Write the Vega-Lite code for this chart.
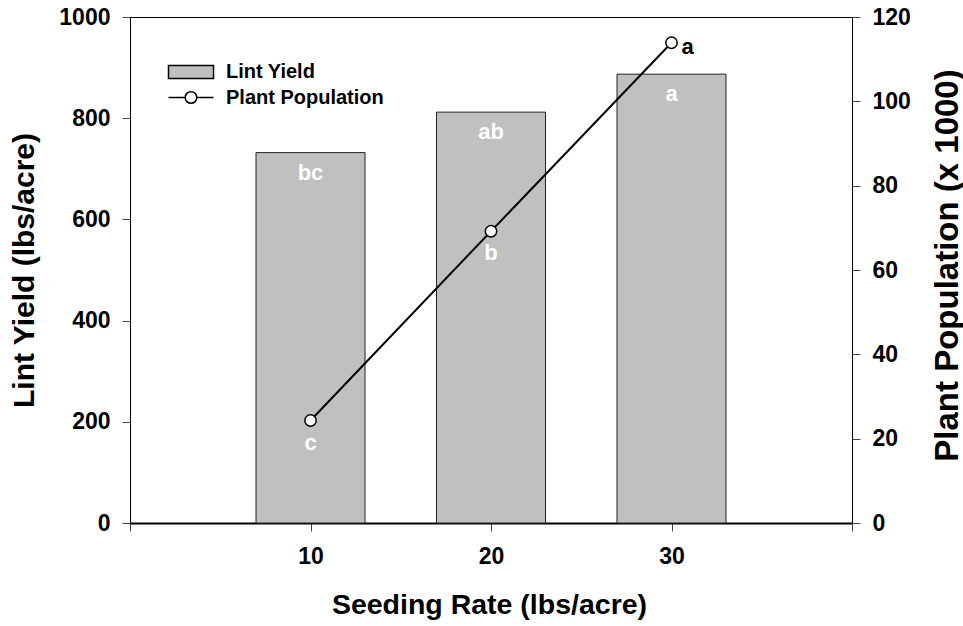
{
  "$schema": "https://vega.github.io/schema/vega-lite/v6.json",
  "width": 722,
  "height": 506,
  "autosize": "none",
  "padding": {"left": 130, "top": 17, "right": 111, "bottom": 103},
  "background": "white",
  "config": {
    "view": {"stroke": "black", "strokeWidth": 1},
    "font": "Liberation Sans",
    "axis": {
      "grid": false,
      "labelFont": "Liberation Sans",
      "labelFontWeight": "bold",
      "labelFontSize": 23,
      "labelColor": "black",
      "titleFont": "Liberation Sans",
      "titleFontWeight": "bold",
      "titleColor": "black",
      "tickColor": "#444",
      "tickSize": 8,
      "domainColor": "black",
      "domainWidth": 1,
      "format": "d"
    }
  },
  "data": {
    "values": [
      {"rate": 10, "yield": 732, "population": 24.3, "yieldLetter": "bc", "popLetter": "c"},
      {"rate": 20, "yield": 812, "population": 69.2, "yieldLetter": "ab", "popLetter": "b"},
      {"rate": 30, "yield": 887, "population": 113.9, "yieldLetter": "a", "popLetter": "a"}
    ]
  },
  "encoding": {
    "x": {
      "field": "rate",
      "type": "quantitative",
      "scale": {"domain": [0, 40], "nice": false, "zero": false, "padding": 0},
      "axis": {
        "values": [0, 10, 20, 30, 40],
        "format": "d",
        "labelExpr": "datum.value == 0 || datum.value == 40 ? '' : datum.label",
        "labelPadding": 14,
        "domainWidth": 1.8,
        "title": "Seeding Rate (lbs/acre)",
        "titleFontSize": 28.5,
        "titleX": 359,
        "titleY": 90,
        "titleBaseline": "alphabetic",
        "titleAlign": "center"
      }
    }
  },
  "layer": [
    {
      "encoding": {
        "y": {
          "field": "yield",
          "type": "quantitative",
          "scale": {"domain": [0, 1000], "nice": false},
          "axis": {
            "orient": "left",
            "values": [0, 200, 400, 600, 800, 1000],
            "format": "d",
            "labelPadding": 12,
            "title": "Lint Yield (lbs/acre)",
            "titleFontSize": 30,
            "titleAngle": 270,
            "titleX": -97,
            "titleY": 253,
            "titleBaseline": "alphabetic",
            "titleAlign": "center"
          }
        }
      },
      "layer": [
        {
          "mark": {"type": "bar", "width": 109, "fill": "#c0c0c0", "stroke": "#222", "strokeWidth": 1}
        },
        {
          "mark": {"type": "text", "baseline": "alphabetic", "align": "center", "dy": 27, "color": "white", "fontSize": 22, "fontWeight": "bold", "font": "Liberation Sans"},
          "encoding": {"text": {"field": "yieldLetter", "type": "nominal"}}
        }
      ]
    },
    {
      "encoding": {
        "y": {
          "field": "population",
          "type": "quantitative",
          "scale": {"domain": [0, 120], "nice": false},
          "axis": {
            "orient": "right",
            "values": [0, 20, 40, 60, 80, 100, 120],
            "format": "d",
            "labelPadding": 12,
            "title": "Plant Population (x 1000)",
            "titleFontSize": 33,
            "titleAngle": 270,
            "titleX": 105,
            "titleY": 248,
            "titleBaseline": "alphabetic",
            "titleAlign": "center"
          }
        }
      },
      "layer": [
        {
          "mark": {"type": "line", "color": "black", "strokeWidth": 2}
        },
        {
          "mark": {"type": "point", "shape": "circle", "filled": true, "fill": "white", "stroke": "black", "strokeWidth": 1.5, "size": 130, "opacity": 1}
        },
        {
          "transform": [{"filter": "datum.rate < 30"}],
          "mark": {"type": "text", "baseline": "alphabetic", "align": "center", "dy": 29, "color": "white", "fontSize": 22, "fontWeight": "bold", "font": "Liberation Sans"},
          "encoding": {"text": {"field": "popLetter", "type": "nominal"}}
        },
        {
          "transform": [{"filter": "datum.rate == 30"}],
          "mark": {"type": "text", "baseline": "alphabetic", "align": "left", "dx": 10, "dy": 11, "color": "black", "fontSize": 22, "fontWeight": "bold", "font": "Liberation Sans"},
          "encoding": {"text": {"field": "popLetter", "type": "nominal"}}
        }
      ]
    },
    {
      "data": {"values": [{"series": "Lint Yield"}, {"series": "Plant Population"}]},
      "transform": [{"filter": "false"}],
      "mark": {"type": "point", "filled": true, "stroke": "black", "strokeWidth": 1.5, "opacity": 1},
      "encoding": {
        "x": {"value": 0},
        "shape": {
          "field": "series",
          "type": "nominal",
          "scale": {
            "domain": ["Lint Yield", "Plant Population"],
            "range": ["M-2.25,-0.65H2.25V0.65H-2.25Z", "M-2.25,0H-0.58M0.58,0H2.25M0.58,0A0.58,0.58,0,1,1,-0.58,0A0.58,0.58,0,1,1,0.58,0Z"]
          },
          "legend": {
            "title": null,
            "orient": "none",
            "legendX": 50,
            "legendY": 44,
            "padding": 0,
            "symbolSize": 400,
            "symbolStrokeColor": "black",
            "symbolStrokeWidth": 1.5,
            "symbolOpacity": 1,
            "labelFont": "Liberation Sans",
            "labelFontSize": 20,
            "labelFontWeight": "bold",
            "labelColor": "black",
            "labelOffset": 24,
            "rowPadding": 4.5,
            "encode": {"symbols": {"update": {"stroke": {"value": "black"}, "strokeWidth": {"value": 1.5}, "opacity": {"value": 1}}}}
          }
        },
        "fill": {
          "field": "series",
          "type": "nominal",
          "scale": {"domain": ["Lint Yield", "Plant Population"], "range": ["#c0c0c0", "#ffffff"]},
          "legend": {
            "title": null,
            "orient": "none",
            "legendX": 50,
            "legendY": 44,
            "padding": 0,
            "symbolSize": 400,
            "symbolStrokeColor": "black",
            "symbolStrokeWidth": 1.5,
            "symbolOpacity": 1,
            "labelFont": "Liberation Sans",
            "labelFontSize": 20,
            "labelFontWeight": "bold",
            "labelColor": "black",
            "labelOffset": 24,
            "rowPadding": 4.5,
            "encode": {"symbols": {"update": {"stroke": {"value": "black"}, "strokeWidth": {"value": 1.5}, "opacity": {"value": 1}}}}
          }
        }
      }
    }
  ],
  "resolve": {"scale": {"y": "independent"}}
}
